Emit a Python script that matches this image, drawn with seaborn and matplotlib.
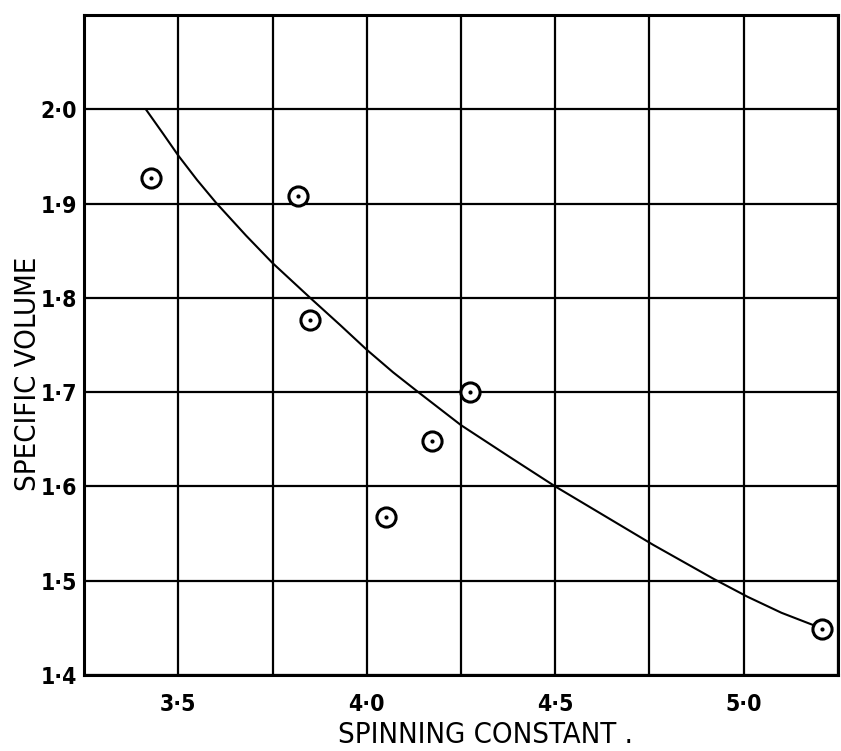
import matplotlib
matplotlib.use("Agg")
import matplotlib.pyplot as plt
import seaborn as sns
import numpy as np

# ============================================================
# 데이터
# ============================================================

# 측정점 (spinning constant, specific volume)
spin_pts = [3.427, 3.818, 3.849, 4.052, 4.172, 4.275, 5.208]
vol_pts = [1.927, 1.908, 1.776, 1.568, 1.648, 1.700, 1.449]

# 손으로 그린 곡선 위에서 읽은 점
curve_x = [3.414, 3.46, 3.50, 3.55, 3.60, 3.68, 3.75, 3.85, 3.93, 4.00,
           4.07, 4.14, 4.25, 4.38, 4.50, 4.63, 4.76, 4.92, 5.01, 5.10, 5.197]
curve_y = [2.000, 1.974, 1.951, 1.925, 1.901, 1.866, 1.837, 1.800, 1.771, 1.745,
           1.721, 1.699, 1.665, 1.631, 1.600, 1.569, 1.538, 1.502, 1.483, 1.466, 1.451]

x_ticks = [3.5, 4.0, 4.5, 5.0]
x_tick_labels = ["3\u00b75", "4\u00b70", "4\u00b75", "5\u00b70"]
y_ticks = [1.4, 1.5, 1.6, 1.7, 1.8, 1.9, 2.0]
y_tick_labels = ["1\u00b74", "1\u00b75", "1\u00b76", "1\u00b77", "1\u00b78", "1\u00b79", "2\u00b70"]

# ============================================================
# 스타일
# ============================================================

sns.set_style("white")
plt.rcParams['font.family'] = ['DejaVu Sans']
plt.rcParams['font.stretch'] = 'condensed'

fig = plt.figure(figsize=(8.41, 7.51), dpi=100)
ax = fig.add_axes([0.0999, 0.1012, 0.8965, 0.8788])

sns.lineplot(x=curve_x, y=curve_y, ax=ax, color="black", linewidth=1.5,
             sort=False, estimator=None, zorder=3)

sns.scatterplot(x=spin_pts, y=vol_pts, ax=ax, s=190, marker="o",
                facecolor="white", edgecolor="black", linewidth=2.2, zorder=4)
sns.scatterplot(x=spin_pts, y=vol_pts, ax=ax, s=9, marker="o",
                color="black", linewidth=0, zorder=5)

ax.set_xlim(3.25, 5.25)
ax.set_ylim(1.4, 2.1)

ax.set_xticks(x_ticks)
ax.set_xticklabels(x_tick_labels, fontsize=16.5, fontweight="bold", color="black")
ax.set_xticks(np.arange(3.25, 5.26, 0.25), minor=True)
ax.set_yticks(y_ticks)
ax.set_yticklabels(y_tick_labels, fontsize=16.5, fontweight="bold", color="black")

ax.tick_params(which="both", length=0)
ax.tick_params(axis="x", pad=13)
ax.tick_params(axis="y", pad=5)

ax.grid(True, which="both", color="black", linewidth=1.6)
ax.set_axisbelow(True)

for s in ax.spines.values():
    s.set_color("black")
    s.set_linewidth(2.2)

ax.set_xlabel("SPINNING CONSTANT .", fontsize=21, color="black")
ax.set_ylabel("SPECIFIC VOLUME", fontsize=21, color="black")
ax.xaxis.set_label_coords(0.532, -0.070)
ax.yaxis.set_label_coords(-0.056, 0.456)

plt.savefig("out.png", dpi=100)
